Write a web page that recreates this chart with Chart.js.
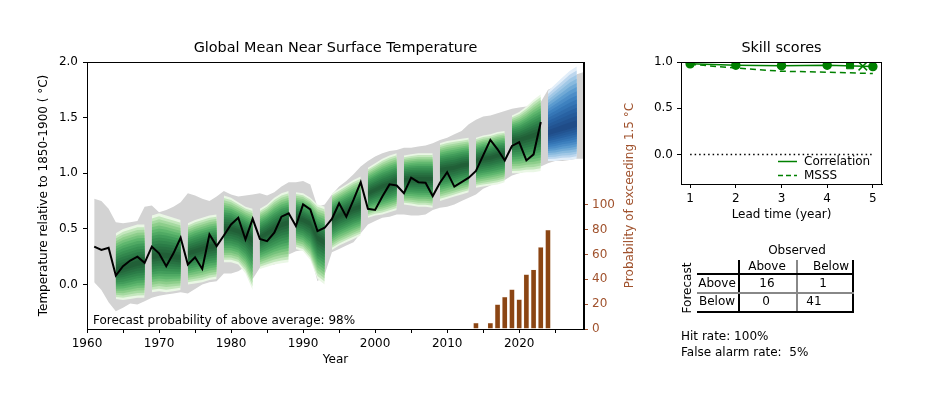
<!DOCTYPE html>
<html>
<head>
<meta charset="utf-8">
<script src="https://cdn.jsdelivr.net/npm/chart.js@4.4.1/dist/chart.umd.min.js"></script>
<style>
  body { margin: 0; width: 939px; height: 396px; background: #fff; position: relative; overflow: hidden; font-family: "DejaVu Sans", sans-serif; }
  canvas { position: absolute; top: 0; }
  #main { left: 0; }
  #skill { left: 640px; }
  .c { position: absolute; transform: translate(-50%, -50%); font-size: 12px; line-height: 1; white-space: nowrap; color: #000; }
  .l { position: absolute; font-size: 12px; line-height: 1; white-space: pre; color: #000; transform: translateY(-50%); }
  .ln { position: absolute; }
</style>
</head>
<body>
<canvas id="main" width="640" height="396"></canvas>
<canvas id="skill" width="299" height="396"></canvas>

<!-- contingency table -->
<div class="c" style="left:797px;top:250px">Observed</div>
<div class="c" style="left:767px;top:266px">Above</div>
<div class="c" style="left:831px;top:266px">Below</div>
<div class="c" style="left:687px;top:288px;transform:translate(-50%,-50%) rotate(-90deg)">Forecast</div>
<div class="c" style="left:717px;top:283px">Above</div>
<div class="c" style="left:717px;top:301px">Below</div>
<div class="c" id="cellAA" style="left:767px;top:283px"></div>
<div class="c" id="cellAB" style="left:823px;top:283px"></div>
<div class="c" id="cellBA" style="left:766px;top:301px"></div>
<div class="c" id="cellBB" style="left:814px;top:301px"></div>
<div class="ln" style="left:738px;top:260px;width:1.5px;height:52px;background:#000"></div>
<div class="ln" style="left:796px;top:260px;width:1.5px;height:52px;background:#888"></div>
<div class="ln" style="left:852px;top:260px;width:1.5px;height:52px;background:#000"></div>
<div class="ln" style="left:697px;top:273px;width:157px;height:1.5px;background:#000"></div>
<div class="ln" style="left:697px;top:292px;width:157px;height:1.5px;background:#888"></div>
<div class="ln" style="left:697px;top:311px;width:157px;height:1.5px;background:#000"></div>
<div class="l" id="hitRate" style="left:681px;top:336px"></div>
<div class="l" id="falseAlarm" style="left:681px;top:352px"></div>

<script>
// observed global mean temperature, 1961-2023
const obsStart = 1961;
const observed = [
  0.34, 0.31, 0.33, 0.08, 0.165, 0.215, 0.25, 0.195, 0.34, 0.28,
  0.165, 0.28, 0.42, 0.18, 0.245, 0.14, 0.45, 0.345, 0.44, 0.54,
  0.60, 0.405, 0.59, 0.41, 0.39, 0.465, 0.61, 0.64, 0.525, 0.72,
  0.675, 0.48, 0.51, 0.59, 0.73, 0.61, 0.76, 0.92, 0.68, 0.67,
  0.79, 0.90, 0.89, 0.82, 0.96, 0.92, 0.915, 0.795, 0.915, 1.01,
  0.88, 0.92, 0.96, 1.02, 1.16, 1.30, 1.215, 1.115, 1.245, 1.28,
  1.115, 1.17, 1.46
];

// grey envelope of all hindcasts, 1961-2029
const bandStart = 1961;
const bandHigh = [
  0.77, 0.75, 0.68, 0.56, 0.55, 0.56, 0.57, 0.70, 0.71, 0.65,
  0.67, 0.70, 0.74, 0.82, 0.80, 0.77, 0.75, 0.79, 0.84, 0.81,
  0.79, 0.80, 0.81, 0.82, 0.80, 0.83, 0.88, 0.92, 0.92, 0.93,
  0.90, 0.70, 0.72, 0.81, 0.88, 0.93, 0.99, 1.06, 1.11, 1.15,
  1.18, 1.20, 1.21, 1.23, 1.23, 1.24, 1.25, 1.27, 1.30, 1.32,
  1.35, 1.38, 1.44, 1.48, 1.51, 1.52, 1.54, 1.56, 1.58, 1.59,
  1.60, 1.62, 1.64, 1.75, 1.78, 1.80, 1.84, 1.89, 1.91
];
const bandLow = [
  0.02, -0.05, -0.16, -0.24, -0.21, -0.17, -0.18, -0.15, -0.12, -0.10,
  -0.09, -0.08, -0.07, -0.08, -0.04, 0.00, 0.02, 0.03, 0.10, 0.10,
  0.12, 0.16, 0.05, 0.15, 0.17, 0.18, 0.22, 0.27, 0.30, 0.31,
  0.27, 0.03, 0.09, 0.29, 0.32, 0.35, 0.38, 0.46, 0.54, 0.57,
  0.60, 0.61, 0.63, 0.63, 0.62, 0.62, 0.63, 0.67, 0.69, 0.70,
  0.72, 0.75, 0.78, 0.81, 0.86, 0.89, 0.92, 0.94, 0.98, 1.00,
  1.02, 1.03, 1.06, 1.09, 1.11, 1.11, 1.12, 1.13, 1.13
];

// 5-year hindcast plumes (green): start year, median, upper and lower limits
const plumeStarts = [1964, 1969, 1974, 1979, 1984, 1989, 1994, 1999, 2004, 2009, 2014, 2019];
const plumeMid = [
  [0.13, 0.15, 0.17, 0.19, 0.20],
  [0.25, 0.26, 0.26, 0.25, 0.24],
  [0.28, 0.30, 0.32, 0.34, 0.35],
  [0.50, 0.50, 0.48, 0.45, 0.40],
  [0.42, 0.46, 0.50, 0.54, 0.56],
  [0.60, 0.58, 0.55, 0.42, 0.38],
  [0.58, 0.62, 0.65, 0.68, 0.70],
  [0.82, 0.85, 0.88, 0.90, 0.93],
  [0.94, 0.95, 0.95, 0.95, 0.95],
  [1.03, 1.04, 1.05, 1.07, 1.08],
  [1.11, 1.13, 1.14, 1.16, 1.17],
  [1.29, 1.30, 1.32, 1.34, 1.36]
];
const plumeHigh = [
  [0.46, 0.50, 0.52, 0.54, 0.54],
  [0.62, 0.64, 0.62, 0.60, 0.58],
  [0.55, 0.58, 0.60, 0.62, 0.63],
  [0.80, 0.78, 0.74, 0.70, 0.68],
  [0.68, 0.72, 0.78, 0.82, 0.84],
  [0.83, 0.82, 0.78, 0.72, 0.70],
  [0.82, 0.86, 0.90, 0.94, 0.97],
  [1.05, 1.09, 1.13, 1.16, 1.18],
  [1.16, 1.17, 1.18, 1.18, 1.18],
  [1.27, 1.29, 1.30, 1.31, 1.32],
  [1.32, 1.34, 1.35, 1.37, 1.38],
  [1.52, 1.55, 1.60, 1.66, 1.71]
];
const plumeLow = [
  [-0.13, -0.14, -0.13, -0.12, -0.12],
  [-0.07, -0.06, -0.07, -0.06, -0.05],
  [0.00, 0.01, 0.02, 0.04, 0.05],
  [0.20, 0.20, 0.18, 0.10, -0.05],
  [0.14, 0.16, 0.18, 0.19, 0.20],
  [0.32, 0.30, 0.22, 0.05, 0.00],
  [0.31, 0.35, 0.38, 0.41, 0.44],
  [0.60, 0.62, 0.63, 0.65, 0.67],
  [0.72, 0.71, 0.70, 0.70, 0.69],
  [0.75, 0.77, 0.79, 0.81, 0.83],
  [0.87, 0.88, 0.89, 0.90, 0.92],
  [1.00, 1.00, 1.01, 1.01, 1.02]
];

// current forecast plume (blue)
const fcStart = 2024;
const fcMid = [1.36, 1.38, 1.40, 1.42, 1.44];
const fcHigh = [1.74, 1.80, 1.86, 1.92, 1.96];
const fcLow = [1.11, 1.11, 1.12, 1.12, 1.13];

// probability of exceeding 1.5 C (%)
const probYears = [2014, 2016, 2017, 2018, 2019, 2020, 2021, 2022, 2023, 2024];
const probValues = [5, 5, 20, 26, 32, 24, 44, 48, 66, 80];

// axis ticks
const yearTicks = [1960, 1965, 1970, 1975, 1980, 1985, 1990, 1995, 2000, 2005, 2010, 2015, 2020, 2025];
const tempTicks = [0, 0.5, 1.0, 1.5, 2.0];
const probTicks = [0, 20, 40, 60, 80, 100];

// skill scores
const leadTimes = [1, 2, 3, 4, 5];
const corrValues = [0.98, 0.965, 0.96, 0.965, 0.95];
const msssValues = [0.975, 0.935, 0.90, 0.89, 0.875];
const meanCorrLead = [4.5];
const meanCorrValue = [0.965];
const meanMsssLead = [4.78];
const meanMsssValue = [0.955];
const skillYTicks = [0, 0.5, 1.0];

// contingency table
const tableCounts = [[16, 1], [0, 41]];
const hitRate = 100;
const falseAlarmRate = 5;
const aboveAvgProb = 98;

document.getElementById('cellAA').textContent = tableCounts[0][0];
document.getElementById('cellAB').textContent = tableCounts[0][1];
document.getElementById('cellBA').textContent = tableCounts[1][0];
document.getElementById('cellBB').textContent = tableCounts[1][1];
document.getElementById('hitRate').textContent = 'Hit rate: ' + hitRate + '%';
document.getElementById('falseAlarm').textContent = 'False alarm rate:  ' + falseAlarmRate + '%';

Chart.defaults.font.family = '"DejaVu Sans", sans-serif';
Chart.defaults.font.size = 12;
Chart.defaults.color = '#000';

// plume shading: colour stops from the edge to the centre of the spread
const greenStops = ['#eaf7e5', '#c4e7bd', '#94d290', '#62b970', '#3e9a58', '#2b7c47', '#215f37'];
const blueStops = ['#e2eef9', '#bdd7ee', '#90bfe1', '#5e9dd0', '#3a7dbd', '#2862a3', '#1f4c88'];
const nLevels = 14;

function hexToRgb(h) {
  return [1, 3, 5].map(i => parseInt(h.substr(i, 2), 16));
}
function shade(stops, t) {
  const p = t * (stops.length - 1);
  const i = Math.min(Math.floor(p), stops.length - 2);
  const f = p - i;
  const a = hexToRgb(stops[i]), b = hexToRgb(stops[i + 1]);
  return 'rgb(' + a.map((v, k) => Math.round(v + f * (b[k] - v))).join(',') + ')';
}

const datasets = [];

function addBand(start, hi, lo, color, order) {
  const lowIdx = datasets.length;
  datasets.push({
    type: 'line', data: lo.map((v, i) => ({x: start + i, y: v})),
    borderWidth: 0, borderColor: 'transparent', pointRadius: 0, fill: false, order
  });
  datasets.push({
    type: 'line', data: hi.map((v, i) => ({x: start + i, y: v})),
    borderWidth: 0, borderColor: 'transparent', pointRadius: 0,
    backgroundColor: color, fill: lowIdx, order
  });
}

function addPlume(start, mid, hi, lo, stops) {
  for (let k = 0; k < nLevels; k++) {
    const f = 1 - k / nLevels;
    const up = mid.map((m, i) => m + f * (hi[i] - m));
    const dn = mid.map((m, i) => m - f * (m - lo[i]));
    addBand(start, up, dn, shade(stops, Math.pow(k / (nLevels - 1), 0.7)), 60 - k);
  }
}

addBand(bandStart, bandHigh, bandLow, '#d3d3d3', 100);
plumeStarts.forEach((s, p) => addPlume(s, plumeMid[p], plumeHigh[p], plumeLow[p], greenStops));
addPlume(fcStart, fcMid, fcHigh, fcLow, blueStops);

datasets.push({
  type: 'bar', yAxisID: 'y2', order: 1,
  data: probYears.map((x, i) => ({x, y: probValues[i]})),
  backgroundColor: '#8b4513', borderColor: '#f3e6dc', borderWidth: 0.5,
  barPercentage: 0.78, categoryPercentage: 1
});
datasets.push({
  type: 'line', order: 0,
  data: observed.map((v, i) => ({x: obsStart + i, y: v})),
  borderColor: '#000', borderWidth: 2, pointRadius: 0, fill: false
});

const frame = {
  id: 'frame',
  afterDraw(chart) {
    const a = chart.chartArea, ctx = chart.ctx;
    ctx.save();
    ctx.strokeStyle = '#000';
    ctx.lineWidth = 1;
    ctx.strokeRect(a.left + 0.5, a.top + 0.5, a.right - a.left - 1, a.bottom - a.top);
    ctx.restore();
  }
};

const mainText = {
  id: 'mainText',
  afterDraw(chart) {
    const a = chart.chartArea, ctx = chart.ctx;
    ctx.save();
    ctx.fillStyle = '#000';
    ctx.font = '14.4px "DejaVu Sans"';
    ctx.textAlign = 'center';
    ctx.textBaseline = 'middle';
    ctx.fillText('Global Mean Near Surface Temperature', (a.left + a.right) / 2, 48);
    ctx.font = '12px "DejaVu Sans"';
    ctx.textAlign = 'left';
    ctx.fillText('Forecast probability of above average: ' + aboveAvgProb + '%', a.left + 6, 321);
    ctx.translate(630, (a.top + a.bottom) / 2);
    ctx.rotate(-Math.PI / 2);
    ctx.textAlign = 'center';
    ctx.fillStyle = '#a0522d';
    ctx.fillText('Probability of exceeding 1.5 °C', 0, 0);
    ctx.restore();
  }
};

new Chart(document.getElementById('main'), {
  type: 'line',
  data: {datasets},
  plugins: [frame, mainText],
  options: {
    responsive: false,
    animation: false,
    devicePixelRatio: 1,
    layout: {padding: {left: 33, right: 0, top: 62, bottom: 25}},
    plugins: {legend: {display: false}, tooltip: {enabled: false}},
    scales: {
      x: {
        type: 'linear', min: 1960, max: 2029, offset: false,
        afterBuildTicks: s => { s.ticks = yearTicks.map(v => ({value: v})); },
        afterFit: s => { s.height = 42; },
        ticks: {autoSkip: false, maxRotation: 0, padding: 4, callback: v => (v % 10 === 0 ? String(v) : '')},
        grid: {drawOnChartArea: false, offset: false, tickLength: 4, color: '#000'},
        border: {color: '#000'},
        title: {display: true, text: 'Year', padding: 4}
      },
      y: {
        position: 'left', min: -0.4, max: 2.0,
        afterBuildTicks: s => { s.ticks = tempTicks.map(v => ({value: v})); },
        afterFit: s => { s.width = 54; },
        ticks: {padding: 5, callback: v => v.toFixed(1)},
        grid: {drawOnChartArea: false, tickLength: 4, color: '#000'},
        border: {color: '#000'},
        title: {display: true, text: 'Temperature relative to 1850-1900 ( °C)', padding: 4}
      },
      y2: {
        position: 'right', min: 0, max: 215,
        afterBuildTicks: s => { s.ticks = probTicks.map(v => ({value: v})); },
        afterFit: s => { s.width = 56; },
        ticks: {padding: 4, color: '#a0522d'},
        grid: {drawOnChartArea: false, tickLength: 4, color: '#a0522d'},
        border: {color: '#000'}
      }
    }
  }
});

const skillText = {
  id: 'skillText',
  afterDraw(chart) {
    const a = chart.chartArea, ctx = chart.ctx;
    ctx.save();
    ctx.fillStyle = '#000';
    ctx.font = '14.4px "DejaVu Sans"';
    ctx.textAlign = 'center';
    ctx.textBaseline = 'middle';
    ctx.fillText('Skill scores', (a.left + a.right) / 2, 48);
    // legend
    ctx.font = '12px "DejaVu Sans"';
    ctx.textAlign = 'left';
    ctx.strokeStyle = 'green';
    ctx.lineWidth = 1.5;
    ctx.beginPath(); ctx.moveTo(138, 161.5); ctx.lineTo(157, 161.5); ctx.stroke();
    ctx.setLineDash([5, 3]);
    ctx.beginPath(); ctx.moveTo(138, 175.5); ctx.lineTo(157, 175.5); ctx.stroke();
    ctx.setLineDash([]);
    ctx.fillText('Correlation', 164, 161.5);
    ctx.fillText('MSSS', 164, 175.5);
    ctx.restore();
  }
};

new Chart(document.getElementById('skill'), {
  type: 'line',
  data: {
    datasets: [
      {
        data: [{x: leadTimes[0], y: 0}, {x: leadTimes[leadTimes.length - 1], y: 0}],
        borderColor: '#000', borderWidth: 1.5, borderDash: [1.5, 3], pointRadius: 0, order: 5
      },
      {
        data: leadTimes.map((x, i) => ({x, y: msssValues[i]})),
        borderColor: 'green', borderWidth: 1.5, borderDash: [6, 4], pointRadius: 0, order: 3
      },
      {
        data: leadTimes.map((x, i) => ({x, y: corrValues[i]})),
        borderColor: 'green', borderWidth: 1.5, pointRadius: 4, pointBackgroundColor: 'green',
        pointBorderColor: 'green', order: 2
      },
      {
        data: meanCorrLead.map((x, i) => ({x, y: meanCorrValue[i]})),
        showLine: false, pointStyle: 'rect', pointRadius: 5, pointBackgroundColor: 'green',
        pointBorderColor: 'green', order: 1
      },
      {
        data: meanMsssLead.map((x, i) => ({x, y: meanMsssValue[i]})),
        showLine: false, pointStyle: 'crossRot', pointRadius: 6, pointBorderWidth: 1.5,
        pointBorderColor: 'green', order: 1
      }
    ]
  },
  plugins: [frame, skillText],
  options: {
    responsive: false,
    animation: false,
    devicePixelRatio: 1,
    layout: {padding: {left: 5, right: 57, top: 62, bottom: 170}},
    plugins: {legend: {display: false}, tooltip: {enabled: false}},
    scales: {
      x: {
        type: 'linear', min: 0.8, max: 5.2,
        afterBuildTicks: s => { s.ticks = leadTimes.map(v => ({value: v})); },
        afterFit: s => { s.height = 42; },
        ticks: {autoSkip: false, maxRotation: 0, padding: 4},
        grid: {drawOnChartArea: false, tickLength: 4, color: '#000'},
        border: {color: '#000'},
        title: {display: true, text: 'Lead time (year)', padding: 4}
      },
      y: {
        min: -0.32, max: 1.0,
        afterBuildTicks: s => { s.ticks = skillYTicks.map(v => ({value: v})); },
        afterFit: s => { s.width = 36; },
        ticks: {padding: 4, callback: v => v.toFixed(1)},
        grid: {drawOnChartArea: false, tickLength: 4, color: '#000'},
        border: {color: '#000'}
      }
    }
  }
});
</script>
</body>
</html>
